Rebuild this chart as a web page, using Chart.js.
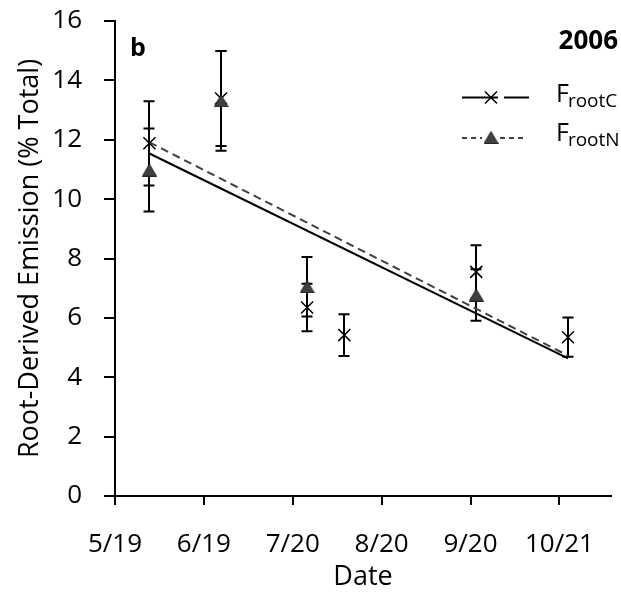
<!DOCTYPE html>
<html><head><meta charset="utf-8">
<script src="https://cdn.jsdelivr.net/npm/chart.js@4/dist/chart.umd.min.js"></script>
<style>html,body{margin:0;padding:0;background:#fff}#wrap{width:621px;height:594px}</style>
</head><body><div id="wrap"><canvas id="c" width="621" height="594"></canvas></div>
<script>
// ---- data (2006) ----
const sampleDates = ['5/31', '6/25', '7/25', '8/7', '9/22', '10/24'];
const tickDates   = ['5/19', '6/19', '7/20', '8/20', '9/20', '10/21'];
const axisEndDate = '11/8';
const yTickValues = [0, 2, 4, 6, 8, 10, 12, 14, 16];
const frootC    = [11.88, 13.39, 6.35, 5.42, 7.55, 5.35];
const frootCErr = [1.42, 1.60, 0.80, 0.70, 0.90, 0.66];
const frootN    = [10.98, 13.31, 7.05, null, 6.77, null];
const frootNErr = [1.40, 1.68, 1.00, null, 0.87, null];

const FONT = '"Open Sans", "Noto Sans", sans-serif';
const cum = [0,31,59,90,120,151,181,212,243,273,304,334];
function doy(s){ const [m,d] = s.split('/').map(Number); return cum[m-1] + d; }
const sampleX = sampleDates.map(doy);
const tickX = tickDates.map(doy);

function pts(vals){ return vals.map((v,i)=> v==null ? null : {x: sampleX[i], y: v}).filter(p=>p); }
function trend(vals){
  const p = pts(vals);
  const n = p.length;
  const mx = p.reduce((a,q)=>a+q.x,0)/n, my = p.reduce((a,q)=>a+q.y,0)/n;
  let sxy=0, sxx=0; p.forEach(q=>{sxy+=(q.x-mx)*(q.y-my); sxx+=(q.x-mx)*(q.x-mx);});
  const b = sxy/sxx, a = my - b*mx;
  const x0 = sampleX[0], x1 = sampleX[sampleX.length-1];
  return [{x:x0, y:a+b*x0}, {x:x1, y:a+b*x1}];
}

function triCanvas(w,h){
  const c = document.createElement('canvas'); c.width=w; c.height=h;
  const g = c.getContext('2d');
  g.beginPath(); g.moveTo(w/2,0.5); g.lineTo(w-0.5,h-0.5); g.lineTo(0.5,h-0.5); g.closePath();
  g.fillStyle='#404040'; g.fill(); g.strokeStyle='#262626'; g.lineWidth=1; g.stroke();
  return c;
}
const tri = triCanvas(15,13);

const errorBars = {
  id:'errorBars',
  beforeDatasetsDraw(chart){
    const ctx = chart.ctx, xs = chart.scales.x, ys = chart.scales.y;
    ctx.save(); ctx.strokeStyle='#000'; ctx.lineWidth=2;
    [[frootC,frootCErr],[frootN,frootNErr]].forEach(([v,e])=>{
      v.forEach((val,i)=>{
        if(val==null||e[i]==null) return;
        const px = Math.round(xs.getPixelForValue(sampleX[i]));
        const yt = ys.getPixelForValue(val+e[i]), yb = ys.getPixelForValue(val-e[i]);
        ctx.beginPath();
        ctx.moveTo(px,yt); ctx.lineTo(px,yb);
        ctx.moveTo(px-5.5,yt); ctx.lineTo(px+5.5,yt);
        ctx.moveTo(px-5.5,yb); ctx.lineTo(px+5.5,yb);
        ctx.stroke();
      });
    });
    ctx.restore();
  }
};

const annot = {
  id:'annot',
  afterDraw(chart){
    const ctx = chart.ctx;
    ctx.save();
    ctx.fillStyle='#000'; ctx.textBaseline='alphabetic';
    ctx.font='bold 25px '+FONT; ctx.textAlign='left';
    ctx.fillText('b', 130, 56);
    ctx.textAlign='right'; ctx.font='bold 26px '+FONT;
    ctx.fillText('2006', 618, 49);
    // legend row 1
    ctx.strokeStyle='#000'; ctx.lineWidth=2;
    ctx.beginPath(); ctx.moveTo(462,97.5); ctx.lineTo(498,97.5); ctx.moveTo(504,97.5); ctx.lineTo(529,97.5); ctx.stroke();
    ctx.lineWidth=1.5; const r=6;
    ctx.beginPath(); ctx.moveTo(491-r,97.5-r); ctx.lineTo(491+r,97.5+r); ctx.moveTo(491-r,97.5+r); ctx.lineTo(491+r,97.5-r); ctx.stroke();
    // legend row 2
    ctx.strokeStyle='#404040'; ctx.lineWidth=2; ctx.setLineDash([5,4]);
    ctx.beginPath(); ctx.moveTo(462,138); ctx.lineTo(482,138); ctx.moveTo(500,138); ctx.lineTo(527,138); ctx.stroke();
    ctx.setLineDash([]);
    ctx.drawImage(tri, 491-7.5, 138-7);
    ctx.textAlign='left'; ctx.fillStyle='#000';
    ctx.font='25px '+FONT; ctx.fillText('F', 556, 102);
    let w = ctx.measureText('F').width;
    ctx.font='19px '+FONT; ctx.fillText('rootC', 556+w-1, 107);
    ctx.font='25px '+FONT; ctx.fillText('F', 556, 141);
    ctx.font='19px '+FONT; ctx.fillText('rootN', 556+w-1, 146);
    ctx.restore();
  }
};

new Chart(document.getElementById('c'), {
  type:'scatter',
  data:{ datasets:[
    { label:'FrootN', data: pts(frootN), pointStyle: tri, pointRadius: 8, showLine:false, order:0 },
    { label:'FrootC', data: pts(frootC), pointStyle:'crossRot', pointRadius: 8.5, pointBorderColor:'#000', pointBorderWidth:1.5, borderColor:'#000', showLine:false, order:1 },
    { label:'trendN', data: trend(frootN), showLine:true, borderColor:'#404040', borderWidth:2, borderDash:[8,5], pointRadius:0, order:2 },
    { label:'trendC', data: trend(frootC), showLine:true, borderColor:'#000', borderWidth:2, pointRadius:0, order:3 }
  ]},
  options:{
    responsive:false, animation:false, devicePixelRatio:1,
    layout:{ padding:{ top:21, right:6, left:0, bottom:0 } },
    plugins:{ legend:{display:false}, tooltip:{enabled:false} },
    scales:{
      x:{
        type:'linear', min: tickX[0], max: doy(axisEndDate),
        afterBuildTicks(s){ s.ticks = tickX.map(v=>({value:v})); },
        afterFit(s){ s.height = 98; s.paddingLeft = 0; s.paddingRight = 0; },
        ticks:{ color:'#000', font:{family:FONT, size:26}, padding:24, autoSkip:false, maxRotation:0,
          callback:(v)=>{ const i = tickX.indexOf(v); return i>=0 ? tickDates[i] : ''; } },
        grid:{ drawOnChartArea:false, drawTicks:true, tickLength:9, color:'#000', lineWidth:2 },
        border:{ display:true, color:'#000', width:2 },
        title:{ display:true, text:'Date', color:'#000', font:{family:FONT, size:27}, padding:{top:0,bottom:0} }
      },
      y:{
        min:0, max:16,
        afterBuildTicks(s){ s.ticks = yTickValues.map(v=>({value:v})); },
        afterFit(s){ s.width = 115; s.paddingTop = 0; s.paddingBottom = 0; },
        ticks:{ color:'#000', font:{family:FONT, size:26}, padding:22 },
        grid:{ drawOnChartArea:false, drawTicks:true, tickLength:11, color:'#000', lineWidth:2 },
        border:{ display:true, color:'#000', width:2 },
        title:{ display:true, text:'Root-Derived Emission (% Total)', color:'#000', font:{family:FONT, size:27}, padding:{top:14,bottom:0} }
      }
    }
  },
  plugins:[errorBars, annot]
});
</script></body></html>
